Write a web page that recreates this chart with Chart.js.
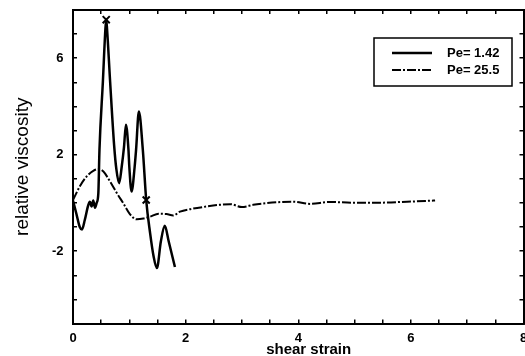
<!DOCTYPE html>
<html>
<head>
<meta charset="utf-8">
<script src="https://cdn.jsdelivr.net/npm/chart.js@4"></script>
<style>
  body { margin: 0; background: #fff; }
  canvas { display: block; }
</style>
</head>
<body>
<canvas id="viscChart" width="525" height="356"></canvas>
<script>
// values
const xTickLabels = [0, 2, 4, 6, 8];
const yTickLabels = [6, 2, -2];
const seriesNames = ['Pe= 1.42', 'Pe= 25.5'];

const strainLow = [0, 0.06, 0.12, 0.16, 0.21, 0.27, 0.30, 0.33, 0.36, 0.39, 0.42, 0.45, 0.47, 0.53, 0.575, 0.59, 0.605, 0.66, 0.73, 0.77, 0.82, 0.865, 0.905, 0.94, 0.985, 1.00, 1.04, 1.095, 1.12, 1.17, 1.24, 1.30, 1.37, 1.43, 1.49, 1.56, 1.63, 1.70, 1.81];
const viscLow = [0.1, -0.45, -1.0, -1.1, -0.7, -0.1, 0.05, -0.15, 0.1, -0.2, 0.0, 0.4, 2.2, 5.0, 7.2, 7.6, 7.2, 5.0, 2.4, 1.4, 0.82, 1.5, 2.3, 3.24, 2.2, 1.5, 0.47, 1.5, 2.2, 3.79, 2.2, 0.12, -1.26, -2.2, -2.7, -1.6, -0.95, -1.6, -2.66];

const strainHigh = [0, 0.12, 0.24, 0.36, 0.45, 0.54, 0.66, 0.78, 0.89, 1.01, 1.13, 1.25, 1.37, 1.52, 1.66, 1.78, 1.90, 2.10, 2.37, 2.60, 2.79, 3.0, 3.2, 3.44, 3.70, 3.91, 4.21, 4.56, 4.98, 5.45, 5.93, 6.43];
const viscHigh = [0.12, 0.68, 1.09, 1.33, 1.40, 1.30, 0.88, 0.40, 0.0, -0.46, -0.68, -0.65, -0.57, -0.45, -0.46, -0.52, -0.36, -0.25, -0.15, -0.08, -0.05, -0.17, -0.08, -0.01, 0.04, 0.05, -0.04, 0.04, 0.01, 0.01, 0.05, 0.1];

const markerStrain = [0.59, 1.30];
const markerVisc = [7.6, 0.12];

const FONT = '"Liberation Sans", Arial, Helvetica, sans-serif';
Chart.defaults.font.family = FONT;
Chart.defaults.color = '#000';

const toPoints = (xs, ys) => xs.map((x, i) => ({ x: x, y: ys[i] }));

// boxed legend in the upper right of the plot
const boxLegend = {
  id: 'boxLegend',
  afterDraw(chart) {
    const ctx = chart.ctx;
    const left = 374, top = 38, right = 512, bottom = 86;
    ctx.save();
    ctx.strokeStyle = '#000';
    ctx.lineWidth = 1.5;
    ctx.strokeRect(left, top, right - left, bottom - top);
    ctx.font = 'bold 13px ' + FONT;
    ctx.textBaseline = 'middle';
    ctx.fillStyle = '#000';
    [0, 1].forEach(i => {
      const ds = chart.data.datasets[i];
      const y = 53 + i * 17;
      ctx.beginPath();
      ctx.lineWidth = ds.borderWidth;
      ctx.setLineDash(ds.borderDash || []);
      ctx.moveTo(392, y);
      ctx.lineTo(432, y);
      ctx.stroke();
      ctx.setLineDash([]);
      ctx.fillText(ds.label, 447, y);
    });
    ctx.restore();
  }
};

const tickGrid = {
  drawOnChartArea: false,
  drawTicks: true,
  tickLength: -4,
  lineWidth: 1.5,
  color: '#000'
};
const frame = { display: true, width: 2, color: '#000' };

function zeroPad(scale) {
  scale.paddingLeft = 0;
  scale.paddingRight = 0;
  scale.paddingTop = 0;
  scale.paddingBottom = 0;
}

const ctx = document.getElementById('viscChart').getContext('2d');
new Chart(ctx, {
  type: 'line',
  data: {
    datasets: [
      {
        label: seriesNames[0],
        data: toPoints(strainLow, viscLow),
        borderColor: '#000',
        borderWidth: 2.5,
        pointRadius: 0,
        cubicInterpolationMode: 'monotone'
      },
      {
        label: seriesNames[1],
        data: toPoints(strainHigh, viscHigh),
        borderColor: '#000',
        borderWidth: 2,
        borderDash: [9, 2, 2, 2],
        pointRadius: 0,
        cubicInterpolationMode: 'monotone'
      },
      {
        label: 'markers',
        data: toPoints(markerStrain, markerVisc),
        showLine: false,
        pointStyle: 'crossRot',
        pointRadius: 5,
        pointBorderWidth: 2,
        borderColor: '#000'
      }
    ]
  },
  options: {
    responsive: false,
    animation: false,
    devicePixelRatio: 1,
    layout: { autoPadding: false, padding: { left: 0, top: 10, right: 1.5, bottom: 0 } },
    plugins: {
      legend: { display: false },
      tooltip: { enabled: false }
    },
    scales: {
      x: {
        type: 'linear',
        position: 'bottom',
        min: 0,
        max: 8,
        grid: tickGrid,
        border: frame,
        ticks: {
          stepSize: 0.5,
          autoSkip: false,
          maxRotation: 0,
          padding: 11,
          font: { size: 13, weight: 'bold' },
          callback: v => xTickLabels.includes(v) ? String(v) : ''
        },
        title: {
          display: true,
          text: '     shear strain',
          font: { size: 15, weight: 'bold', lineHeight: 0.8 },
          padding: 0
        },
        afterFit(scale) { scale.height = 32.5; zeroPad(scale); }
      },
      xTop: {
        type: 'linear',
        position: 'top',
        min: 0,
        max: 8,
        grid: tickGrid,
        border: frame,
        ticks: { stepSize: 0.5, display: false, autoSkip: false },
        afterFit(scale) { scale.height = 0; zeroPad(scale); }
      },
      y: {
        type: 'linear',
        position: 'left',
        min: -5,
        max: 8,
        grid: tickGrid,
        border: frame,
        ticks: {
          stepSize: 1,
          autoSkip: false,
          padding: 13.5,
          font: { size: 13, weight: 'bold' },
          callback: v => yTickLabels.includes(v) ? String(v) : ''
        },
        title: {
          display: true,
          text: 'relative viscosity',
          font: { size: 19, lineHeight: 1.2 },
          padding: { top: 11, bottom: 0 }
        },
        afterFit(scale) { scale.width = 73; zeroPad(scale); }
      },
      yRight: {
        type: 'linear',
        position: 'right',
        min: -5,
        max: 8,
        grid: tickGrid,
        border: frame,
        ticks: { stepSize: 1, display: false, autoSkip: false },
        afterFit(scale) { scale.width = 0; zeroPad(scale); }
      }
    }
  },
  plugins: [boxLegend]
});
</script>
</body>
</html>
